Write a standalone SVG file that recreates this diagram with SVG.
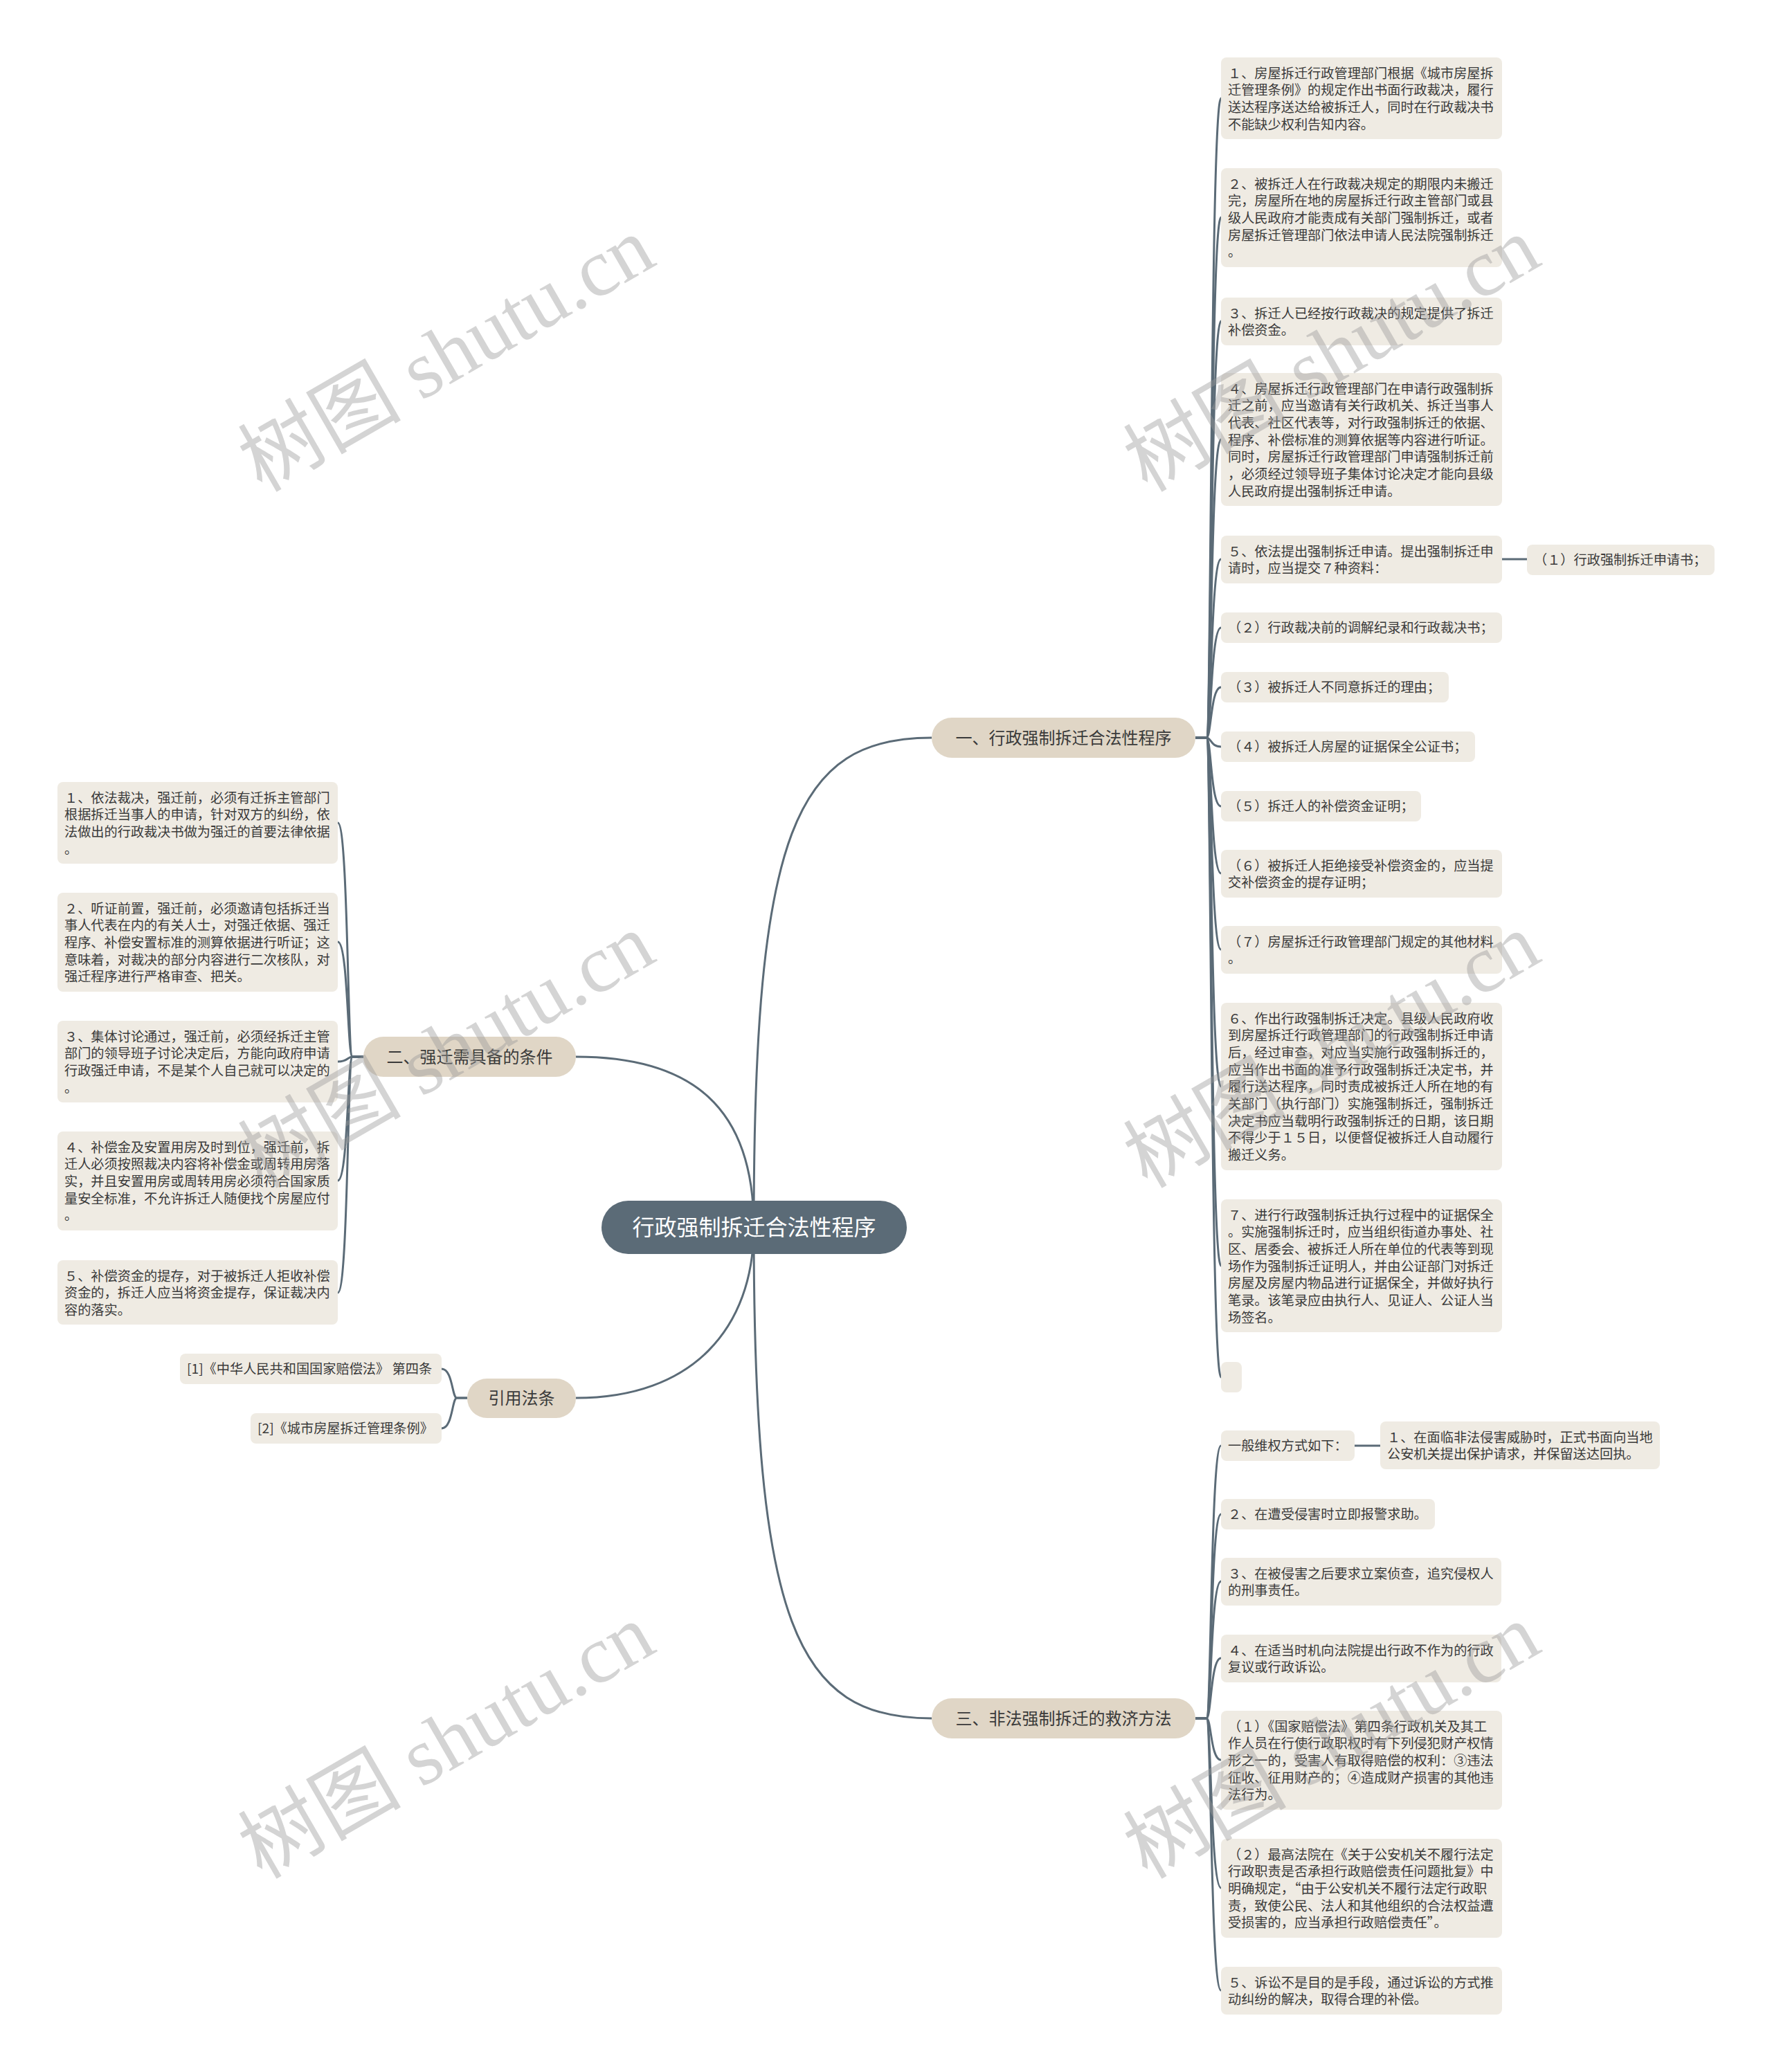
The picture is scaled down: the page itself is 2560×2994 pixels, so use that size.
<svg xmlns="http://www.w3.org/2000/svg" width="2560" height="2994" viewBox="0 0 2560 2994">
<style>
.bg{fill:#ffffff}
.ln{fill:none;stroke:#5b6b77;stroke-width:3}
.lf{fill:#efebe3}
.br{fill:#e0d6c6}
.ct{fill:#5b6b77}
.t{font-family:"Noto Sans CJK SC","Noto Sans",sans-serif;font-size:19.2px;fill:#3a3a3a}
.bt{font-family:"Noto Sans CJK SC","Noto Sans",sans-serif;font-size:24px;fill:#3a3a3a;text-anchor:middle}
.cx{font-family:"Noto Sans CJK SC","Noto Sans",sans-serif;font-size:32px;fill:#ffffff;text-anchor:middle}
.wm{font-family:"Liberation Serif","Noto Sans CJK SC",serif;font-size:118px;fill:#9a9a9a;opacity:0.42;text-anchor:middle}
</style>
<rect class="bg" x="0" y="0" width="2560" height="2994"/>
<g id="connectors">
<path class="ln" d="M1089,1773 C1089,1200 1150,1066 1346,1066"/>
<path class="ln" d="M1089,1773 C1089,2346 1150,2483 1346,2483"/>
<path class="ln" d="M1089,1773 C1089,1600 1000,1527 832,1527"/>
<path class="ln" d="M1089,1773 C1089,1920 1000,2020 832,2020"/>
<path class="ln" d="M1727,1066 L1743,1066 C1750,1066 1749,142 1764,142"/>
<path class="ln" d="M1727,1066 L1743,1066 C1750,1066 1749,314 1764,314"/>
<path class="ln" d="M1727,1066 L1743,1066 C1750,1066 1749,464 1764,464"/>
<path class="ln" d="M1727,1066 L1743,1066 C1750,1066 1749,635 1764,635"/>
<path class="ln" d="M1727,1066 L1743,1066 C1750,1066 1749,808 1764,808"/>
<path class="ln" d="M1727,1066 L1743,1066 C1750,1066 1749,907 1764,907"/>
<path class="ln" d="M1727,1066 L1743,1066 C1750,1066 1749,993 1764,993"/>
<path class="ln" d="M1727,1066 L1743,1066 C1750,1066 1749,1079 1764,1079"/>
<path class="ln" d="M1727,1066 L1743,1066 C1750,1066 1749,1165 1764,1165"/>
<path class="ln" d="M1727,1066 L1743,1066 C1750,1066 1749,1262 1764,1262"/>
<path class="ln" d="M1727,1066 L1743,1066 C1750,1066 1749,1372 1764,1372"/>
<path class="ln" d="M1727,1066 L1743,1066 C1750,1066 1749,1570 1764,1570"/>
<path class="ln" d="M1727,1066 L1743,1066 C1750,1066 1749,1829 1764,1829"/>
<path class="ln" d="M1727,1066 L1743,1066 C1750,1066 1749,1990 1764,1990"/>
<path class="ln" d="M2170,808 L2206,808"/>
<path class="ln" d="M1727,2483 L1743,2483 C1750,2483 1749,2089 1764,2089"/>
<path class="ln" d="M1727,2483 L1743,2483 C1750,2483 1749,2188 1764,2188"/>
<path class="ln" d="M1727,2483 L1743,2483 C1750,2483 1749,2285 1764,2285"/>
<path class="ln" d="M1727,2483 L1743,2483 C1750,2483 1749,2396 1764,2396"/>
<path class="ln" d="M1727,2483 L1743,2483 C1750,2483 1749,2543 1764,2543"/>
<path class="ln" d="M1727,2483 L1743,2483 C1750,2483 1749,2728 1764,2728"/>
<path class="ln" d="M1727,2483 L1743,2483 C1750,2483 1749,2876 1764,2876"/>
<path class="ln" d="M1957,2089 L1994,2089"/>
<path class="ln" d="M525,1527 L509,1527 C502,1527 503,1189 488,1189"/>
<path class="ln" d="M525,1527 L509,1527 C502,1527 503,1361 488,1361"/>
<path class="ln" d="M525,1527 L509,1527 C502,1527 503,1534 488,1534"/>
<path class="ln" d="M525,1527 L509,1527 C502,1527 503,1706 488,1706"/>
<path class="ln" d="M525,1527 L509,1527 C502,1527 503,1868 488,1868"/>
<path class="ln" d="M675,2020 L660,2020 C653,2020 654,1978 638,1978"/>
<path class="ln" d="M675,2020 L660,2020 C653,2020 654,2064 638,2064"/>
</g>
<g id="center">
<rect class="ct" x="869" y="1735" width="441" height="77" rx="38.5"/>
<text class="cx" x="1089.5" y="1785">行政强制拆迁合法性程序</text>
</g>
<g id="b1">
<rect class="br" x="1346" y="1037" width="381" height="58" rx="29"/>
<text class="bt" x="1536.5" y="1075">一、行政强制拆迁合法性程序</text>
</g>
<g id="b2">
<rect class="br" x="525" y="1498" width="307" height="58" rx="29"/>
<text class="bt" x="678.5" y="1536">二、强迁需具备的条件</text>
</g>
<g id="b3">
<rect class="br" x="1346" y="2454" width="381" height="58" rx="29"/>
<text class="bt" x="1536.5" y="2492">三、非法强制拆迁的救济方法</text>
</g>
<g id="b4">
<rect class="br" x="675" y="1992" width="157" height="57" rx="28.5"/>
<text class="bt" x="753.5" y="2029">引用法条</text>
</g>
<g id="n1">
<rect class="lf" x="1764" y="83" width="406" height="118" rx="8"/>
<text class="t"><tspan x="1774" y="112.5">１、房屋拆迁行政管理部门根据《城市房屋拆</tspan><tspan x="1774" y="137.2">迁管理条例》的规定作出书面行政裁决，履行</tspan><tspan x="1774" y="161.9">送达程序送达给被拆迁人，同时在行政裁决书</tspan><tspan x="1774" y="186.6">不能缺少权利告知内容。</tspan></text>
</g>
<g id="n2">
<rect class="lf" x="1764" y="243" width="406" height="143" rx="8"/>
<text class="t"><tspan x="1774" y="272.5">２、被拆迁人在行政裁决规定的期限内未搬迁</tspan><tspan x="1774" y="297.2">完，房屋所在地的房屋拆迁行政主管部门或县</tspan><tspan x="1774" y="321.9">级人民政府才能责成有关部门强制拆迁，或者</tspan><tspan x="1774" y="346.6">房屋拆迁管理部门依法申请人民法院强制拆迁</tspan><tspan x="1774" y="371.3">。</tspan></text>
</g>
<g id="n3">
<rect class="lf" x="1764" y="430" width="406" height="69" rx="8"/>
<text class="t"><tspan x="1774" y="459.5">３、拆迁人已经按行政裁决的规定提供了拆迁</tspan><tspan x="1774" y="484.2">补偿资金。</tspan></text>
</g>
<g id="n4">
<rect class="lf" x="1764" y="539" width="406" height="192" rx="8"/>
<text class="t"><tspan x="1774" y="568.5">４、房屋拆迁行政管理部门在申请行政强制拆</tspan><tspan x="1774" y="593.2">迁之前，应当邀请有关行政机关、拆迁当事人</tspan><tspan x="1774" y="617.9">代表、社区代表等，对行政强制拆迁的依据、</tspan><tspan x="1774" y="642.6">程序、补偿标准的测算依据等内容进行听证。</tspan><tspan x="1774" y="667.3">同时，房屋拆迁行政管理部门申请强制拆迁前</tspan><tspan x="1774" y="692">，必须经过领导班子集体讨论决定才能向县级</tspan><tspan x="1774" y="716.7">人民政府提出强制拆迁申请。</tspan></text>
</g>
<g id="n5">
<rect class="lf" x="1764" y="774" width="406" height="69" rx="8"/>
<text class="t"><tspan x="1774" y="803.5">５、依法提出强制拆迁申请。提出强制拆迁申</tspan><tspan x="1774" y="828.2">请时，应当提交７种资料：</tspan></text>
</g>
<g id="n5c1">
<rect class="lf" x="2206" y="787" width="271" height="44" rx="8"/>
<text class="t" x="2216" y="816">（１）行政强制拆迁申请书；</text>
</g>
<g id="p2">
<rect class="lf" x="1764" y="885" width="406" height="44" rx="8"/>
<text class="t" x="1774" y="914">（２）行政裁决前的调解纪录和行政裁决书；</text>
</g>
<g id="p3">
<rect class="lf" x="1764" y="971" width="329" height="44" rx="8"/>
<text class="t" x="1774" y="1000">（３）被拆迁人不同意拆迁的理由；</text>
</g>
<g id="p4">
<rect class="lf" x="1764" y="1057" width="367" height="44" rx="8"/>
<text class="t" x="1774" y="1086">（４）被拆迁人房屋的证据保全公证书；</text>
</g>
<g id="p5">
<rect class="lf" x="1764" y="1143" width="289" height="44" rx="8"/>
<text class="t" x="1774" y="1172">（５）拆迁人的补偿资金证明；</text>
</g>
<g id="p6">
<rect class="lf" x="1764" y="1228" width="406" height="69" rx="8"/>
<text class="t"><tspan x="1774" y="1257.5">（６）被拆迁人拒绝接受补偿资金的，应当提</tspan><tspan x="1774" y="1282.2">交补偿资金的提存证明；</tspan></text>
</g>
<g id="p7">
<rect class="lf" x="1764" y="1338" width="406" height="69" rx="8"/>
<text class="t"><tspan x="1774" y="1367.5">（７）房屋拆迁行政管理部门规定的其他材料</tspan><tspan x="1774" y="1392.2">。</tspan></text>
</g>
<g id="n6">
<rect class="lf" x="1764" y="1449" width="406" height="242" rx="8"/>
<text class="t"><tspan x="1774" y="1478.5">６、作出行政强制拆迁决定。县级人民政府收</tspan><tspan x="1774" y="1503.2">到房屋拆迁行政管理部门的行政强制拆迁申请</tspan><tspan x="1774" y="1527.9">后，经过审查，对应当实施行政强制拆迁的，</tspan><tspan x="1774" y="1552.6">应当作出书面的准予行政强制拆迁决定书，并</tspan><tspan x="1774" y="1577.3">履行送达程序，同时责成被拆迁人所在地的有</tspan><tspan x="1774" y="1602">关部门（执行部门）实施强制拆迁，强制拆迁</tspan><tspan x="1774" y="1626.7">决定书应当载明行政强制拆迁的日期，该日期</tspan><tspan x="1774" y="1651.4">不得少于１５日，以便督促被拆迁人自动履行</tspan><tspan x="1774" y="1676.1">搬迁义务。</tspan></text>
</g>
<g id="n7">
<rect class="lf" x="1764" y="1733" width="406" height="192" rx="8"/>
<text class="t"><tspan x="1774" y="1762.5">７、进行行政强制拆迁执行过程中的证据保全</tspan><tspan x="1774" y="1787.2">。实施强制拆迁时，应当组织街道办事处、社</tspan><tspan x="1774" y="1811.9">区、居委会、被拆迁人所在单位的代表等到现</tspan><tspan x="1774" y="1836.6">场作为强制拆迁证明人，并由公证部门对拆迁</tspan><tspan x="1774" y="1861.3">房屋及房屋内物品进行证据保全，并做好执行</tspan><tspan x="1774" y="1886">笔录。该笔录应由执行人、见证人、公证人当</tspan><tspan x="1774" y="1910.7">场签名。</tspan></text>
</g>
<g id="n8">
<rect class="lf" x="1764" y="1968" width="30" height="44" rx="8"/>
</g>
<g id="r1">
<rect class="lf" x="1764" y="2067" width="193" height="44" rx="8"/>
<text class="t" x="1774" y="2096">一般维权方式如下：</text>
</g>
<g id="r1c1">
<rect class="lf" x="1994" y="2054" width="404" height="69" rx="8"/>
<text class="t"><tspan x="2004" y="2083.5">１、在面临非法侵害威胁时，正式书面向当地</tspan><tspan x="2004" y="2108.2">公安机关提出保护请求，并保留送达回执。</tspan></text>
</g>
<g id="r2">
<rect class="lf" x="1764" y="2166" width="309" height="44" rx="8"/>
<text class="t" x="1774" y="2195">２、在遭受侵害时立即报警求助。</text>
</g>
<g id="r3">
<rect class="lf" x="1764" y="2251" width="405" height="69" rx="8"/>
<text class="t"><tspan x="1774" y="2280.5">３、在被侵害之后要求立案侦查，追究侵权人</tspan><tspan x="1774" y="2305.2">的刑事责任。</tspan></text>
</g>
<g id="r4">
<rect class="lf" x="1764" y="2362" width="405" height="69" rx="8"/>
<text class="t"><tspan x="1774" y="2391.5">４、在适当时机向法院提出行政不作为的行政</tspan><tspan x="1774" y="2416.2">复议或行政诉讼。</tspan></text>
</g>
<g id="r5">
<rect class="lf" x="1764" y="2472" width="406" height="143" rx="8"/>
<text class="t"><tspan x="1774" y="2501.5">（１）《国家赔偿法》第四条行政机关及其工</tspan><tspan x="1774" y="2526.2">作人员在行使行政职权时有下列侵犯财产权情</tspan><tspan x="1774" y="2550.9">形之一的，受害人有取得赔偿的权利：③违法</tspan><tspan x="1774" y="2575.6">征收、征用财产的；④造成财产损害的其他违</tspan><tspan x="1774" y="2600.3">法行为。</tspan></text>
</g>
<g id="r6">
<rect class="lf" x="1764" y="2657" width="406" height="143" rx="8"/>
<text class="t"><tspan x="1774" y="2686.5">（２）最高法院在《关于公安机关不履行法定</tspan><tspan x="1774" y="2711.2">行政职责是否承担行政赔偿责任问题批复》中</tspan><tspan x="1774" y="2735.9">明确规定，“由于公安机关不履行法定行政职</tspan><tspan x="1774" y="2760.6">责，致使公民、法人和其他组织的合法权益遭</tspan><tspan x="1774" y="2785.3">受损害的，应当承担行政赔偿责任”。</tspan></text>
</g>
<g id="r7">
<rect class="lf" x="1764" y="2842" width="406" height="69" rx="8"/>
<text class="t"><tspan x="1774" y="2871.5">５、诉讼不是目的是手段，通过诉讼的方式推</tspan><tspan x="1774" y="2896.2">动纠纷的解决，取得合理的补偿。</tspan></text>
</g>
<g id="l1">
<rect class="lf" x="83" y="1130" width="405" height="118" rx="8"/>
<text class="t"><tspan x="93" y="1159.5">１、依法裁决，强迁前，必须有迁拆主管部门</tspan><tspan x="93" y="1184.2">根据拆迁当事人的申请，针对双方的纠纷，依</tspan><tspan x="93" y="1208.9">法做出的行政裁决书做为强迁的首要法律依据</tspan><tspan x="93" y="1233.6">。</tspan></text>
</g>
<g id="l2">
<rect class="lf" x="83" y="1290" width="405" height="143" rx="8"/>
<text class="t"><tspan x="93" y="1319.5">２、听证前置，强迁前，必须邀请包括拆迁当</tspan><tspan x="93" y="1344.2">事人代表在内的有关人士，对强迁依据、强迁</tspan><tspan x="93" y="1368.9">程序、补偿安置标准的测算依据进行听证；这</tspan><tspan x="93" y="1393.6">意味着，对裁决的部分内容进行二次核队，对</tspan><tspan x="93" y="1418.3">强迁程序进行严格审查、把关。</tspan></text>
</g>
<g id="l3">
<rect class="lf" x="83" y="1475" width="405" height="118" rx="8"/>
<text class="t"><tspan x="93" y="1504.5">３、集体讨论通过，强迁前，必须经拆迁主管</tspan><tspan x="93" y="1529.2">部门的领导班子讨论决定后，方能向政府申请</tspan><tspan x="93" y="1553.9">行政强迁申请，不是某个人自己就可以决定的</tspan><tspan x="93" y="1578.6">。</tspan></text>
</g>
<g id="l4">
<rect class="lf" x="83" y="1635" width="405" height="143" rx="8"/>
<text class="t"><tspan x="93" y="1664.5">４、补偿金及安置用房及时到位，强迁前，拆</tspan><tspan x="93" y="1689.2">迁人必须按照裁决内容将补偿金或周转用房落</tspan><tspan x="93" y="1713.9">实，并且安置用房或周转用房必须符合国家质</tspan><tspan x="93" y="1738.6">量安全标准，不允许拆迁人随便找个房屋应付</tspan><tspan x="93" y="1763.3">。</tspan></text>
</g>
<g id="l5">
<rect class="lf" x="83" y="1821" width="405" height="93" rx="8"/>
<text class="t"><tspan x="93" y="1850.5">５、补偿资金的提存，对于被拆迁人拒收补偿</tspan><tspan x="93" y="1875.2">资金的，拆迁人应当将资金提存，保证裁决内</tspan><tspan x="93" y="1899.9">容的落实。</tspan></text>
</g>
<g id="q1">
<rect class="lf" x="260" y="1956" width="378" height="44" rx="8"/>
<text class="t" x="270" y="1985">[1]《中华人民共和国国家赔偿法》 第四条</text>
</g>
<g id="q2">
<rect class="lf" x="362" y="2042" width="276" height="44" rx="8"/>
<text class="t" x="372" y="2071">[2]《城市房屋拆迁管理条例》</text>
</g>
<g id="watermark">
<text class="wm" transform="rotate(-30 645 512)" x="645" y="552">树图 shutu.cn</text>
<text class="wm" transform="rotate(-30 1924 512)" x="1924" y="552">树图 shutu.cn</text>
<text class="wm" transform="rotate(-30 645 1518)" x="645" y="1558">树图 shutu.cn</text>
<text class="wm" transform="rotate(-30 1924 1518)" x="1924" y="1558">树图 shutu.cn</text>
<text class="wm" transform="rotate(-30 645 2516)" x="645" y="2556">树图 shutu.cn</text>
<text class="wm" transform="rotate(-30 1924 2516)" x="1924" y="2556">树图 shutu.cn</text>
</g>
</svg>
